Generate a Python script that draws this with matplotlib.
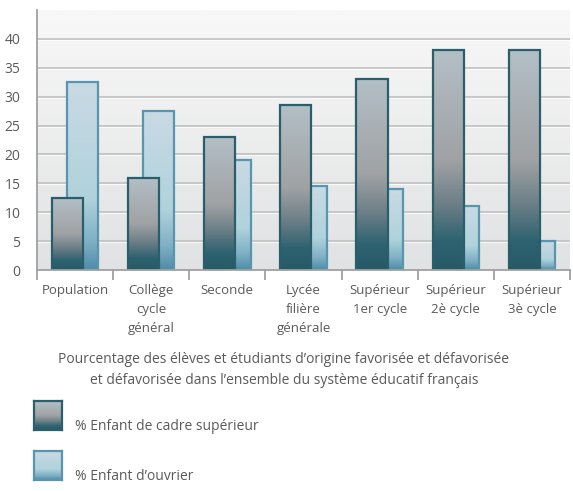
import numpy as np
import matplotlib
matplotlib.use("Agg")
import matplotlib.pyplot as plt
from matplotlib.colors import LinearSegmentedColormap

plt.rcParams['font.family'] = ['Open Sans', 'DejaVu Sans']

categories = ["Population", "Collège\ncycle\ngénéral", "Seconde", "Lycée\nfilière\ngénérale",
              "Supérieur\n1er cycle", "Supérieur\n2è cycle", "Supérieur\n3è cycle"]
cadre = [12.5, 16, 23, 28.5, 33, 38, 38]
ouvrier = [32.5, 27.5, 19, 14.5, 14, 11, 5]
yticks = [0, 5, 10, 15, 20, 25, 30, 35, 40]
series_labels = ["% Enfant de cadre supérieur", "% Enfant d\u2019ouvrier"]
title = ("Pourcentage des élèves et étudiants d\u2019origine favorisée et défavorisée\n"
         "et défavorisée dans l\u2019ensemble du système éducatif français")

TXT = "#5a5a5a"
dark_cmap = LinearSegmentedColormap.from_list(
    "dark", [(0, "#b3bfc6"), (0.5, "#a0a2a4"), (0.7, "#6c7f87"), (0.87, "#2d6270"), (1, "#275a67")])
light_cmap = LinearSegmentedColormap.from_list(
    "light", [(0, "#c9dae4"), (0.62, "#b0d2dc"), (0.85, "#7fb0c4"), (1, "#4d8ca8")])
bg_cmap = LinearSegmentedColormap.from_list("bg", [(0, "#f8f8f8"), (1, "#e1e2e3")])

W, H = 573, 491
fig = plt.figure(figsize=(W / 100, H / 100), dpi=100)
ax = fig.add_axes([37 / W, 1 - 270 / H, 533 / W, 260 / H])

x = np.arange(len(categories))
XL = (-0.5, len(categories) - 0.5)
grad = np.linspace(0, 1, 256).reshape(-1, 1)

# background gradient (row 0 = top)
ax.imshow(grad, extent=(XL[0], XL[1], 0, 45), cmap=bg_cmap, aspect="auto",
          zorder=0, origin="upper")

for t in yticks[1:]:
    ax.axhline(t, color="#c3c3c3", lw=1.3, zorder=1)
    ax.axhline(t - 0.17, color="#ffffff", lw=0.8, zorder=1, alpha=0.8)


def grad_bars(xs, vals, cmap, edge, z):
    bars = ax.bar(xs, vals, width=0.41, facecolor="none", edgecolor=edge, linewidth=1.6, zorder=z + 0.5)
    for b in bars:
        x0, y0 = b.get_x(), b.get_y()
        w, h = b.get_width(), b.get_height()
        im = ax.imshow(grad, extent=(x0, x0 + w, y0, y0 + h), cmap=cmap, aspect="auto",
                       zorder=z, origin="upper")
        im.set_clip_path(b)
    return bars


grad_bars(x + 0.1, ouvrier, light_cmap, "#5896b0", 2)
grad_bars(x - 0.1, cadre, dark_cmap, "#2b5e6b", 3)
ax.set_xlim(*XL)
ax.set_ylim(0, 45)

for s in ["top", "right"]:
    ax.spines[s].set_visible(False)
for s in ["left", "bottom"]:
    ax.spines[s].set_color("#a0a0a0")
    ax.spines[s].set_linewidth(1.3)
    ax.spines[s].set_zorder(5)

ax.set_yticks(yticks)
ax.set_yticklabels([str(v) for v in yticks], color=TXT, fontsize=10)
ax.tick_params(axis="y", length=0, pad=12)
ax.set_xticks(x)
ax.set_xticklabels(categories, color=TXT, fontsize=9.5, linespacing=1.6)
ax.tick_params(axis="x", which="major", length=0, pad=10)
ax.set_xticks(np.arange(-0.5, len(categories)), minor=True)
ax.tick_params(axis="x", which="minor", length=7, width=1.3, color="#a0a0a0")

fig.text(284 / W, 1 - 370 / H, title, ha="center", va="center", color=TXT, fontsize=10,
         linespacing=1.55)

# legend
for (ytop, cmap, edge, lab, ty) in [(401, dark_cmap, "#2b5e6b", series_labels[0], 426),
                                    (451, light_cmap, "#5896b0", series_labels[1], 477)]:
    lax = fig.add_axes([34 / W, 1 - (ytop + 29) / H, 28 / W, 29 / H])
    lax.imshow(grad, extent=(0, 1, 0, 1), cmap=cmap, aspect="auto", origin="upper")
    lax.set_xticks([]); lax.set_yticks([])
    for sp in lax.spines.values():
        sp.set_color(edge); sp.set_linewidth(1.6)
    fig.text(75 / W, 1 - ty / H, lab, ha="left", va="center", color=TXT, fontsize=10)

fig.savefig("out.png", dpi=100)
